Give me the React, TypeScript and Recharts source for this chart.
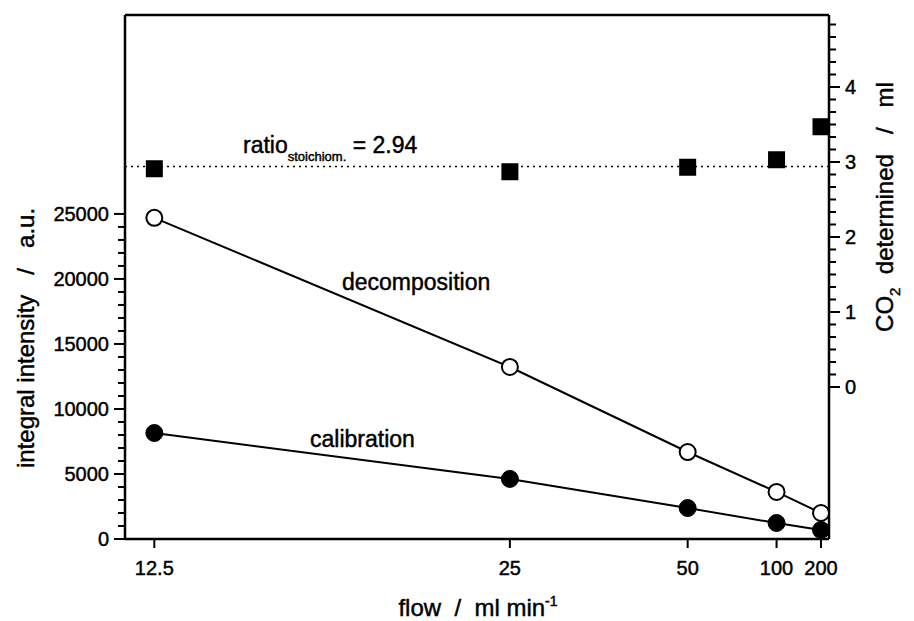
import React from "react";
import { ComposedChart, Line, Scatter, XAxis, YAxis, ReferenceLine, Label } from "recharts";

const flows = [12.5, 25, 50, 100, 200];
const decomposition = [24700, 13230, 6690, 3620, 2000];
const calibration = [8150, 4620, 2380, 1230, 690];
const co2Determined = [2.91, 2.87, 2.93, 3.03, 3.47];
const ratioStoichiom = 2.94;

const leftTicks = [0, 5000, 10000, 15000, 20000, 25000];
const leftMinor = [
  1000, 2000, 3000, 4000, 6000, 7000, 8000, 9000, 11000, 12000, 13000, 14000,
  16000, 17000, 18000, 19000, 21000, 22000, 23000, 24000
];
const rightTicks = [0, 1, 2, 3, 4];
// minor ticks on the right axis sit every 1/6 ml
const rightMinorSixths = [
  1, 2, 3, 4, 5, 7, 8, 9, 10, 11, 13, 14, 15, 16, 17, 19, 20, 21, 22, 23, 25, 26, 27, 28, 29
];

const FONT = "'Liberation Sans', Arial, Helvetica, sans-serif";
const TXT = { fontFamily: FONT, fill: "#000", stroke: "#000", strokeWidth: 0.45 };

// x axis is linear in 1/flow (reciprocal scale)
const inv = (f: number) => -1 / f;

const data = flows.map((flow, i) => ({
  flow,
  decomposition: decomposition[i],
  calibration: calibration[i],
  co2: co2Determined[i]
}));

const leftAll = [...leftTicks, ...leftMinor].sort((a, b) => a - b);
const rightAll = [...rightTicks, ...rightMinorSixths.map((s) => s / 6)].sort((a, b) => a - b);

const LeftTick = (props: any) => {
  const { x, y, payload } = props;
  const major = leftTicks.includes(payload.value);
  return (
    <g>
      <path d={`M${x - (major ? 11 : 7)},${y}H${x}`} stroke="#000" strokeWidth={2} fill="none" />
      {major && (
        <text x={x - 16} y={y} dy="0.36em" textAnchor="end" fontSize={20} {...TXT}>
          {payload.value}
        </text>
      )}
    </g>
  );
};

const RightTick = (props: any) => {
  const { x, y, payload } = props;
  const major = rightTicks.includes(payload.value);
  return (
    <g>
      <path d={`M${x},${y}H${x + (major ? 11 : 7)}`} stroke="#000" strokeWidth={2} fill="none" />
      {major && (
        <text x={x + 16} y={y} dy="0.36em" textAnchor="start" fontSize={20} {...TXT}>
          {payload.value}
        </text>
      )}
    </g>
  );
};

const BottomTick = (props: any) => {
  const { x, y, payload } = props;
  const label = Number((-1 / payload.value).toFixed(1));
  return (
    <g>
      <path d={`M${x},${y}V${y + 9}`} stroke="#000" strokeWidth={2} fill="none" />
      <text x={x} y={y + 36} textAnchor="middle" fontSize={20} {...TXT}>
        {label}
      </text>
    </g>
  );
};

const XTitle = () => (
  <g>
    <text x={478} y={616} textAnchor="middle" fontSize={24} {...TXT} style={{ whiteSpace: "pre" }}>
      {"flow  /  ml min"}
      <tspan dy={-10} fontSize={14}>-1</tspan>
    </text>
    <text x={342} y={290} fontSize={23} {...TXT}>decomposition</text>
    <text x={310} y={447} fontSize={23} {...TXT}>calibration</text>
  </g>
);

const LeftTitle = () => (
  <text
    x={34}
    y={338}
    transform="rotate(-90, 34, 338)"
    textAnchor="middle"
    fontSize={24}
    {...TXT}
    style={{ whiteSpace: "pre" }}
  >
    {"integral intensity   /   a.u."}
  </text>
);

const RightTitle = () => (
  <text
    x={893}
    y={207}
    transform="rotate(-90, 893, 207)"
    textAnchor="middle"
    fontSize={24}
    {...TXT}
    style={{ whiteSpace: "pre" }}
  >
    CO
    <tspan dy={7} fontSize={15}>2</tspan>
    <tspan dy={-7}>{"  determined   /   ml"}</tspan>
  </text>
);

const RatioLabel = () => (
  <text x={243} y={153} fontSize={23} {...TXT} style={{ whiteSpace: "pre" }}>
    ratio
    <tspan dy={8} fontSize={13}>stoichiom.</tspan>
    <tspan dy={-8}>{" = " + ratioStoichiom.toFixed(2)}</tspan>
  </text>
);

const Square = (props: any) => {
  const { cx, cy } = props;
  return <rect x={cx - 8.5} y={cy - 8.5} width={17} height={17} fill="#000" />;
};

const App = () => {
  return (
    <div style={{ position: "absolute", left: 0, top: 0, background: "#fff" }}>
      <ComposedChart
        width={914}
        height={621}
        data={data}
        margin={{ top: 15, right: 0, bottom: 0, left: 0 }}
      >
        <XAxis
          dataKey={(d: any) => inv(d.flow)}
          type="number"
          domain={[-0.0833, -0.0041]}
          allowDataOverflow
          ticks={flows.map(inv)}
          tick={<BottomTick />}
          tickLine={false}
          tickSize={0}
          tickMargin={0}
          height={82}
          axisLine={{ stroke: "#000", strokeWidth: 2.5 }}
          interval={0}
        >
          <Label content={<XTitle />} />
        </XAxis>
        <YAxis
          yAxisId="left"
          type="number"
          domain={[0, 40300]}
          allowDataOverflow
          ticks={leftAll}
          tick={<LeftTick />}
          tickLine={false}
          tickSize={0}
          tickMargin={0}
          width={125}
          interval={0}
          minTickGap={0}
          axisLine={{ stroke: "#000", strokeWidth: 2.5 }}
        >
          <Label content={<LeftTitle />} />
        </YAxis>
        <YAxis
          yAxisId="right"
          orientation="right"
          type="number"
          domain={[-2.027, 4.96]}
          allowDataOverflow
          ticks={rightAll}
          tick={<RightTick />}
          tickLine={false}
          tickSize={0}
          tickMargin={0}
          width={85}
          interval={0}
          minTickGap={0}
          axisLine={{ stroke: "#000", strokeWidth: 2.5 }}
        >
          <Label content={<RightTitle />} />
        </YAxis>
        <ReferenceLine yAxisId="left" y={40300} stroke="#000" strokeWidth={2.5} />
        <ReferenceLine
          yAxisId="right"
          y={ratioStoichiom}
          stroke="#000"
          strokeWidth={1.5}
          strokeDasharray="2 4"
          label={<RatioLabel />}
        />
        <Line
          yAxisId="left"
          type="linear"
          dataKey="decomposition"
          stroke="#000"
          strokeWidth={2}
          dot={{ r: 8, fill: "#fff", stroke: "#000", strokeWidth: 2 }}
          isAnimationActive={false}
        />
        <Line
          yAxisId="left"
          type="linear"
          dataKey="calibration"
          stroke="#000"
          strokeWidth={2}
          dot={{ r: 8.5, fill: "#000", stroke: "#000", strokeWidth: 1 }}
          isAnimationActive={false}
        />
        <Scatter
          yAxisId="right"
          dataKey="co2"
          fill="#000"
          shape={<Square />}
          isAnimationActive={false}
        />
      </ComposedChart>
    </div>
  );
};

export default App;
